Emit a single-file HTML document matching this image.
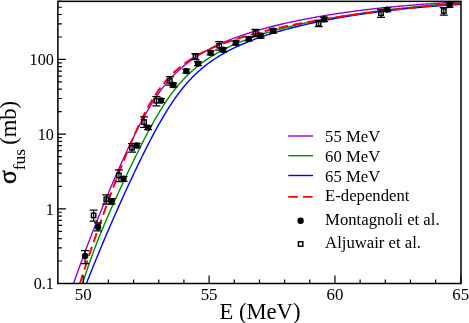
<!DOCTYPE html><html><head><meta charset="utf-8"><title>fusion</title>
<style>html,body{margin:0;padding:0;background:#fff}svg{display:block;will-change:transform;opacity:0.999}text{font-family:"Liberation Serif",serif;fill:#000}</style></head><body>
<svg width="469" height="323" viewBox="0 0 469 323">
<rect width="469" height="323" fill="#fff"/>
<defs><clipPath id="c"><rect x="57.9" y="1.35" width="403.1" height="282.15"/></clipPath></defs>
<g clip-path="url(#c)" fill="none" stroke-linejoin="round">
<path d="M72.21,287.33 L73.22,284.43 L74.23,281.55 L75.24,278.69 L76.25,275.85 L77.26,273.02 L78.27,270.21 L79.28,267.42 L80.29,264.65 L81.29,261.89 L82.30,259.15 L83.31,256.42 L84.32,253.71 L85.33,251.02 L86.34,248.34 L87.35,245.67 L88.36,243.02 L89.37,240.39 L90.38,237.76 L91.39,235.15 L92.40,232.56 L93.41,229.98 L94.42,227.41 L95.42,224.85 L96.43,222.31 L97.44,219.78 L98.45,217.26 L99.46,214.75 L100.47,212.26 L101.48,209.78 L102.49,207.30 L103.50,204.84 L104.51,202.40 L105.52,199.96 L106.53,197.53 L107.54,195.12 L108.55,192.71 L109.56,190.32 L110.56,187.94 L111.57,185.56 L112.58,183.20 L113.59,180.85 L114.60,178.52 L115.61,176.19 L116.62,173.87 L117.63,171.57 L118.64,169.28 L119.65,167.00 L120.66,164.74 L121.67,162.48 L122.68,160.24 L123.69,158.02 L124.70,155.80 L125.70,153.61 L126.71,151.42 L127.72,149.26 L128.73,147.10 L129.74,144.97 L130.75,142.85 L131.76,140.75 L132.77,138.67 L133.78,136.61 L134.79,134.56 L135.80,132.54 L136.81,130.53 L137.82,128.55 L138.83,126.59 L139.84,124.66 L140.84,122.74 L141.85,120.85 L142.86,118.98 L143.87,117.14 L144.88,115.32 L145.89,113.53 L146.90,111.77 L147.91,110.03 L148.92,108.32 L149.93,106.63 L150.94,104.98 L151.95,103.35 L152.96,101.75 L153.97,100.18 L154.98,98.64 L155.98,97.13 L156.99,95.65 L158.00,94.20 L159.01,92.78 L160.02,91.38 L161.03,90.02 L162.04,88.68 L163.05,87.37 L164.06,86.09 L165.07,84.84 L166.08,83.61 L167.09,82.41 L168.10,81.24 L169.11,80.09 L170.11,78.97 L171.12,77.87 L172.13,76.79 L173.14,75.74 L174.15,74.71 L175.16,73.71 L176.17,72.72 L177.18,71.76 L178.19,70.81 L179.20,69.89 L180.21,68.98 L181.22,68.09 L182.23,67.23 L183.24,66.37 L184.25,65.54 L185.25,64.72 L186.26,63.92 L187.27,63.14 L188.28,62.37 L189.29,61.61 L190.30,60.87 L191.31,60.14 L192.32,59.43 L193.33,58.73 L194.34,58.04 L195.35,57.36 L196.36,56.70 L197.37,56.05 L198.38,55.41 L199.39,54.78 L200.39,54.16 L201.40,53.55 L202.41,52.95 L203.42,52.37 L204.43,51.79 L205.44,51.22 L206.45,50.66 L207.46,50.11 L208.47,49.57 L209.48,49.03 L210.49,48.51 L211.50,47.99 L212.51,47.49 L213.52,46.98 L214.53,46.49 L215.53,46.00 L216.54,45.53 L217.55,45.05 L218.56,44.59 L219.57,44.13 L220.58,43.68 L221.59,43.23 L222.60,42.79 L223.61,42.36 L224.62,41.93 L225.63,41.50 L226.64,41.09 L227.65,40.67 L228.66,40.27 L229.66,39.87 L230.67,39.47 L231.68,39.08 L232.69,38.69 L233.70,38.31 L234.71,37.93 L235.72,37.56 L236.73,37.19 L237.74,36.82 L238.75,36.46 L239.76,36.11 L240.77,35.75 L241.78,35.41 L242.79,35.06 L243.80,34.72 L244.80,34.38 L245.81,34.05 L246.82,33.72 L247.83,33.39 L248.84,33.07 L249.85,32.75 L250.86,32.44 L251.87,32.12 L252.88,31.81 L253.89,31.51 L254.90,31.20 L255.91,30.90 L256.92,30.61 L257.93,30.31 L258.94,30.02 L259.94,29.73 L260.95,29.45 L261.96,29.16 L262.97,28.88 L263.98,28.60 L264.99,28.33 L266.00,28.06 L267.01,27.79 L268.02,27.52 L269.03,27.25 L270.04,26.99 L271.05,26.73 L272.06,26.47 L273.07,26.22 L274.08,25.96 L275.08,25.71 L276.09,25.46 L277.10,25.22 L278.11,24.97 L279.12,24.73 L280.13,24.49 L281.14,24.25 L282.15,24.01 L283.16,23.78 L284.17,23.55 L285.18,23.32 L286.19,23.09 L287.20,22.86 L288.21,22.64 L289.22,22.41 L290.22,22.19 L291.23,21.97 L292.24,21.76 L293.25,21.54 L294.26,21.33 L295.27,21.11 L296.28,20.90 L297.29,20.70 L298.30,20.49 L299.31,20.28 L300.32,20.08 L301.33,19.88 L302.34,19.68 L303.35,19.48 L304.35,19.28 L305.36,19.09 L306.37,18.89 L307.38,18.70 L308.39,18.51 L309.40,18.32 L310.41,18.13 L311.42,17.94 L312.43,17.76 L313.44,17.57 L314.45,17.39 L315.46,17.21 L316.47,17.03 L317.48,16.85 L318.49,16.68 L319.49,16.50 L320.50,16.33 L321.51,16.15 L322.52,15.98 L323.53,15.81 L324.54,15.64 L325.55,15.48 L326.56,15.31 L327.57,15.14 L328.58,14.98 L329.59,14.82 L330.60,14.66 L331.61,14.50 L332.62,14.34 L333.63,14.18 L334.63,14.02 L335.64,13.87 L336.65,13.71 L337.66,13.56 L338.67,13.41 L339.68,13.26 L340.69,13.11 L341.70,12.96 L342.71,12.82 L343.72,12.67 L344.73,12.52 L345.74,12.38 L346.75,12.24 L347.76,12.10 L348.77,11.96 L349.77,11.82 L350.78,11.68 L351.79,11.54 L352.80,11.41 L353.81,11.27 L354.82,11.14 L355.83,11.00 L356.84,10.87 L357.85,10.74 L358.86,10.61 L359.87,10.48 L360.88,10.36 L361.89,10.23 L362.90,10.10 L363.90,9.98 L364.91,9.85 L365.92,9.73 L366.93,9.61 L367.94,9.49 L368.95,9.37 L369.96,9.25 L370.97,9.13 L371.98,9.02 L372.99,8.90 L374.00,8.78 L375.01,8.67 L376.02,8.56 L377.03,8.45 L378.04,8.33 L379.04,8.22 L380.05,8.11 L381.06,8.01 L382.07,7.90 L383.08,7.79 L384.09,7.69 L385.10,7.58 L386.11,7.48 L387.12,7.38 L388.13,7.27 L389.14,7.17 L390.15,7.07 L391.16,6.97 L392.17,6.87 L393.18,6.78 L394.18,6.68 L395.19,6.58 L396.20,6.49 L397.21,6.39 L398.22,6.30 L399.23,6.21 L400.24,6.12 L401.25,6.03 L402.26,5.94 L403.27,5.85 L404.28,5.76 L405.29,5.67 L406.30,5.59 L407.31,5.50 L408.32,5.42 L409.32,5.33 L410.33,5.25 L411.34,5.17 L412.35,5.09 L413.36,5.01 L414.37,4.93 L415.38,4.85 L416.39,4.77 L417.40,4.69 L418.41,4.62 L419.42,4.54 L420.43,4.47 L421.44,4.39 L422.45,4.32 L423.46,4.25 L424.46,4.17 L425.47,4.10 L426.48,4.03 L427.49,3.96 L428.50,3.90 L429.51,3.83 L430.52,3.76 L431.53,3.70 L432.54,3.63 L433.55,3.57 L434.56,3.50 L435.57,3.44 L436.58,3.38 L437.59,3.32 L438.59,3.26 L439.60,3.20 L440.61,3.14 L441.62,3.08 L442.63,3.02 L443.64,2.97 L444.65,2.91 L445.66,2.86 L446.67,2.80 L447.68,2.75 L448.69,2.70 L449.70,2.65 L450.71,2.59 L451.72,2.54 L452.73,2.50 L453.73,2.45 L454.74,2.40 L455.75,2.35 L456.76,2.31 L457.77,2.26 L458.78,2.22 L459.79,2.17 L460.80,2.13" stroke="#9400d3" stroke-width="1.4"/>
<path d="M81.29,287.85 L82.30,284.56 L83.31,281.32 L84.32,278.15 L85.33,275.03 L86.34,271.97 L87.35,268.96 L88.36,266.00 L89.37,263.09 L90.38,260.22 L91.39,257.41 L92.40,254.63 L93.41,251.90 L94.42,249.21 L95.42,246.55 L96.43,243.93 L97.44,241.35 L98.45,238.80 L99.46,236.27 L100.47,233.78 L101.48,231.31 L102.49,228.87 L103.50,226.45 L104.51,224.06 L105.52,221.68 L106.53,219.32 L107.54,216.99 L108.55,214.67 L109.56,212.37 L110.56,210.08 L111.57,207.81 L112.58,205.55 L113.59,203.31 L114.60,201.07 L115.61,198.85 L116.62,196.64 L117.63,194.43 L118.64,192.24 L119.65,190.05 L120.66,187.87 L121.67,185.69 L122.68,183.53 L123.69,181.36 L124.70,179.21 L125.70,177.06 L126.71,174.92 L127.72,172.79 L128.73,170.66 L129.74,168.55 L130.75,166.44 L131.76,164.34 L132.77,162.25 L133.78,160.16 L134.79,158.09 L135.80,156.03 L136.81,153.98 L137.82,151.94 L138.83,149.91 L139.84,147.90 L140.84,145.89 L141.85,143.90 L142.86,141.92 L143.87,139.96 L144.88,138.01 L145.89,136.08 L146.90,134.16 L147.91,132.26 L148.92,130.37 L149.93,128.51 L150.94,126.66 L151.95,124.83 L152.96,123.02 L153.97,121.23 L154.98,119.46 L155.98,117.71 L156.99,115.98 L158.00,114.28 L159.01,112.59 L160.02,110.93 L161.03,109.29 L162.04,107.68 L163.05,106.09 L164.06,104.53 L165.07,102.99 L166.08,101.47 L167.09,99.98 L168.10,98.52 L169.11,97.08 L170.11,95.67 L171.12,94.29 L172.13,92.93 L173.14,91.59 L174.15,90.28 L175.16,89.00 L176.17,87.74 L177.18,86.50 L178.19,85.30 L179.20,84.11 L180.21,82.95 L181.22,81.81 L182.23,80.70 L183.24,79.60 L184.25,78.53 L185.25,77.48 L186.26,76.46 L187.27,75.45 L188.28,74.47 L189.29,73.50 L190.30,72.55 L191.31,71.63 L192.32,70.72 L193.33,69.83 L194.34,68.95 L195.35,68.10 L196.36,67.26 L197.37,66.43 L198.38,65.63 L199.39,64.84 L200.39,64.06 L201.40,63.30 L202.41,62.55 L203.42,61.81 L204.43,61.09 L205.44,60.39 L206.45,59.69 L207.46,59.01 L208.47,58.34 L209.48,57.68 L210.49,57.03 L211.50,56.40 L212.51,55.78 L213.52,55.16 L214.53,54.56 L215.53,53.97 L216.54,53.38 L217.55,52.81 L218.56,52.24 L219.57,51.69 L220.58,51.14 L221.59,50.61 L222.60,50.08 L223.61,49.56 L224.62,49.05 L225.63,48.54 L226.64,48.04 L227.65,47.55 L228.66,47.07 L229.66,46.60 L230.67,46.13 L231.68,45.67 L232.69,45.21 L233.70,44.76 L234.71,44.32 L235.72,43.88 L236.73,43.45 L237.74,43.02 L238.75,42.60 L239.76,42.19 L240.77,41.78 L241.78,41.38 L242.79,40.98 L243.80,40.59 L244.80,40.20 L245.81,39.81 L246.82,39.43 L247.83,39.06 L248.84,38.69 L249.85,38.32 L250.86,37.96 L251.87,37.60 L252.88,37.25 L253.89,36.90 L254.90,36.56 L255.91,36.22 L256.92,35.88 L257.93,35.54 L258.94,35.21 L259.94,34.89 L260.95,34.56 L261.96,34.24 L262.97,33.93 L263.98,33.61 L264.99,33.30 L266.00,33.00 L267.01,32.69 L268.02,32.39 L269.03,32.10 L270.04,31.80 L271.05,31.51 L272.06,31.22 L273.07,30.94 L274.08,30.65 L275.08,30.37 L276.09,30.09 L277.10,29.82 L278.11,29.55 L279.12,29.28 L280.13,29.01 L281.14,28.74 L282.15,28.48 L283.16,28.22 L284.17,27.96 L285.18,27.71 L286.19,27.45 L287.20,27.20 L288.21,26.95 L289.22,26.71 L290.22,26.46 L291.23,26.22 L292.24,25.98 L293.25,25.74 L294.26,25.50 L295.27,25.27 L296.28,25.04 L297.29,24.81 L298.30,24.58 L299.31,24.35 L300.32,24.13 L301.33,23.90 L302.34,23.68 L303.35,23.46 L304.35,23.25 L305.36,23.03 L306.37,22.82 L307.38,22.60 L308.39,22.39 L309.40,22.18 L310.41,21.98 L311.42,21.77 L312.43,21.57 L313.44,21.36 L314.45,21.16 L315.46,20.96 L316.47,20.77 L317.48,20.57 L318.49,20.37 L319.49,20.18 L320.50,19.99 L321.51,19.80 L322.52,19.61 L323.53,19.42 L324.54,19.23 L325.55,19.05 L326.56,18.87 L327.57,18.68 L328.58,18.50 L329.59,18.32 L330.60,18.14 L331.61,17.97 L332.62,17.79 L333.63,17.62 L334.63,17.44 L335.64,17.27 L336.65,17.10 L337.66,16.93 L338.67,16.76 L339.68,16.59 L340.69,16.43 L341.70,16.26 L342.71,16.10 L343.72,15.94 L344.73,15.78 L345.74,15.62 L346.75,15.46 L347.76,15.30 L348.77,15.14 L349.77,14.98 L350.78,14.83 L351.79,14.68 L352.80,14.52 L353.81,14.37 L354.82,14.22 L355.83,14.07 L356.84,13.92 L357.85,13.77 L358.86,13.63 L359.87,13.48 L360.88,13.34 L361.89,13.19 L362.90,13.05 L363.90,12.91 L364.91,12.77 L365.92,12.63 L366.93,12.49 L367.94,12.35 L368.95,12.21 L369.96,12.08 L370.97,11.94 L371.98,11.81 L372.99,11.67 L374.00,11.54 L375.01,11.41 L376.02,11.28 L377.03,11.15 L378.04,11.02 L379.04,10.89 L380.05,10.76 L381.06,10.63 L382.07,10.51 L383.08,10.38 L384.09,10.26 L385.10,10.14 L386.11,10.01 L387.12,9.89 L388.13,9.77 L389.14,9.65 L390.15,9.53 L391.16,9.41 L392.17,9.29 L393.18,9.18 L394.18,9.06 L395.19,8.94 L396.20,8.83 L397.21,8.72 L398.22,8.60 L399.23,8.49 L400.24,8.38 L401.25,8.27 L402.26,8.16 L403.27,8.05 L404.28,7.94 L405.29,7.83 L406.30,7.72 L407.31,7.61 L408.32,7.51 L409.32,7.40 L410.33,7.30 L411.34,7.19 L412.35,7.09 L413.36,6.99 L414.37,6.89 L415.38,6.78 L416.39,6.68 L417.40,6.58 L418.41,6.48 L419.42,6.39 L420.43,6.29 L421.44,6.19 L422.45,6.09 L423.46,6.00 L424.46,5.90 L425.47,5.81 L426.48,5.71 L427.49,5.62 L428.50,5.53 L429.51,5.43 L430.52,5.34 L431.53,5.25 L432.54,5.16 L433.55,5.07 L434.56,4.98 L435.57,4.89 L436.58,4.81 L437.59,4.72 L438.59,4.63 L439.60,4.54 L440.61,4.46 L441.62,4.37 L442.63,4.29 L443.64,4.21 L444.65,4.12 L445.66,4.04 L446.67,3.96 L447.68,3.88 L448.69,3.80 L449.70,3.71 L450.71,3.63 L451.72,3.56 L452.73,3.48 L453.73,3.40 L454.74,3.32 L455.75,3.24 L456.76,3.17 L457.77,3.09 L458.78,3.02 L459.79,2.94 L460.80,2.87" stroke="#008b00" stroke-width="1.4"/>
<path d="M84.32,288.85 L85.33,286.25 L86.34,283.67 L87.35,281.10 L88.36,278.54 L89.37,275.99 L90.38,273.46 L91.39,270.93 L92.40,268.42 L93.41,265.92 L94.42,263.43 L95.42,260.95 L96.43,258.48 L97.44,256.03 L98.45,253.58 L99.46,251.14 L100.47,248.72 L101.48,246.30 L102.49,243.89 L103.50,241.50 L104.51,239.11 L105.52,236.73 L106.53,234.36 L107.54,232.00 L108.55,229.65 L109.56,227.31 L110.56,224.98 L111.57,222.66 L112.58,220.34 L113.59,218.04 L114.60,215.74 L115.61,213.45 L116.62,211.17 L117.63,208.90 L118.64,206.64 L119.65,204.38 L120.66,202.14 L121.67,199.90 L122.68,197.67 L123.69,195.45 L124.70,193.23 L125.70,191.03 L126.71,188.83 L127.72,186.64 L128.73,184.46 L129.74,182.29 L130.75,180.13 L131.76,177.98 L132.77,175.83 L133.78,173.70 L134.79,171.57 L135.80,169.45 L136.81,167.35 L137.82,165.25 L138.83,163.16 L139.84,161.09 L140.84,159.02 L141.85,156.97 L142.86,154.92 L143.87,152.89 L144.88,150.87 L145.89,148.86 L146.90,146.87 L147.91,144.89 L148.92,142.92 L149.93,140.97 L150.94,139.03 L151.95,137.11 L152.96,135.20 L153.97,133.31 L154.98,131.44 L155.98,129.58 L156.99,127.74 L158.00,125.92 L159.01,124.12 L160.02,122.33 L161.03,120.57 L162.04,118.83 L163.05,117.10 L164.06,115.40 L165.07,113.72 L166.08,112.06 L167.09,110.42 L168.10,108.81 L169.11,107.22 L170.11,105.65 L171.12,104.11 L172.13,102.59 L173.14,101.10 L174.15,99.63 L175.16,98.18 L176.17,96.76 L177.18,95.37 L178.19,94.00 L179.20,92.65 L180.21,91.33 L181.22,90.04 L182.23,88.77 L183.24,87.52 L184.25,86.30 L185.25,85.10 L186.26,83.93 L187.27,82.78 L188.28,81.65 L189.29,80.55 L190.30,79.46 L191.31,78.40 L192.32,77.36 L193.33,76.35 L194.34,75.35 L195.35,74.37 L196.36,73.41 L197.37,72.47 L198.38,71.55 L199.39,70.65 L200.39,69.77 L201.40,68.90 L202.41,68.05 L203.42,67.22 L204.43,66.40 L205.44,65.60 L206.45,64.82 L207.46,64.05 L208.47,63.29 L209.48,62.55 L210.49,61.82 L211.50,61.11 L212.51,60.41 L213.52,59.72 L214.53,59.04 L215.53,58.38 L216.54,57.72 L217.55,57.08 L218.56,56.45 L219.57,55.83 L220.58,55.22 L221.59,54.63 L222.60,54.04 L223.61,53.46 L224.62,52.89 L225.63,52.33 L226.64,51.78 L227.65,51.24 L228.66,50.70 L229.66,50.18 L230.67,49.66 L231.68,49.15 L232.69,48.65 L233.70,48.16 L234.71,47.67 L235.72,47.19 L236.73,46.71 L237.74,46.25 L238.75,45.79 L239.76,45.33 L240.77,44.89 L241.78,44.44 L242.79,44.01 L243.80,43.58 L244.80,43.15 L245.81,42.74 L246.82,42.32 L247.83,41.91 L248.84,41.51 L249.85,41.11 L250.86,40.72 L251.87,40.33 L252.88,39.94 L253.89,39.57 L254.90,39.19 L255.91,38.82 L256.92,38.45 L257.93,38.09 L258.94,37.73 L259.94,37.38 L260.95,37.03 L261.96,36.68 L262.97,36.34 L263.98,36.00 L264.99,35.66 L266.00,35.33 L267.01,35.00 L268.02,34.68 L269.03,34.36 L270.04,34.04 L271.05,33.72 L272.06,33.41 L273.07,33.10 L274.08,32.80 L275.08,32.50 L276.09,32.20 L277.10,31.90 L278.11,31.60 L279.12,31.31 L280.13,31.02 L281.14,30.74 L282.15,30.46 L283.16,30.17 L284.17,29.90 L285.18,29.62 L286.19,29.35 L287.20,29.08 L288.21,28.81 L289.22,28.54 L290.22,28.28 L291.23,28.02 L292.24,27.76 L293.25,27.50 L294.26,27.25 L295.27,27.00 L296.28,26.75 L297.29,26.50 L298.30,26.25 L299.31,26.01 L300.32,25.77 L301.33,25.53 L302.34,25.29 L303.35,25.06 L304.35,24.82 L305.36,24.59 L306.37,24.36 L307.38,24.13 L308.39,23.91 L309.40,23.68 L310.41,23.46 L311.42,23.24 L312.43,23.02 L313.44,22.80 L314.45,22.59 L315.46,22.37 L316.47,22.16 L317.48,21.95 L318.49,21.74 L319.49,21.54 L320.50,21.33 L321.51,21.13 L322.52,20.92 L323.53,20.72 L324.54,20.52 L325.55,20.33 L326.56,20.13 L327.57,19.93 L328.58,19.74 L329.59,19.55 L330.60,19.36 L331.61,19.17 L332.62,18.98 L333.63,18.80 L334.63,18.61 L335.64,18.43 L336.65,18.25 L337.66,18.07 L338.67,17.89 L339.68,17.71 L340.69,17.53 L341.70,17.36 L342.71,17.19 L343.72,17.01 L344.73,16.84 L345.74,16.67 L346.75,16.50 L347.76,16.34 L348.77,16.17 L349.77,16.01 L350.78,15.84 L351.79,15.68 L352.80,15.52 L353.81,15.36 L354.82,15.20 L355.83,15.05 L356.84,14.89 L357.85,14.73 L358.86,14.58 L359.87,14.43 L360.88,14.28 L361.89,14.13 L362.90,13.98 L363.90,13.83 L364.91,13.68 L365.92,13.54 L366.93,13.39 L367.94,13.25 L368.95,13.11 L369.96,12.97 L370.97,12.83 L371.98,12.69 L372.99,12.55 L374.00,12.42 L375.01,12.28 L376.02,12.15 L377.03,12.01 L378.04,11.88 L379.04,11.75 L380.05,11.62 L381.06,11.49 L382.07,11.36 L383.08,11.24 L384.09,11.11 L385.10,10.99 L386.11,10.86 L387.12,10.74 L388.13,10.62 L389.14,10.50 L390.15,10.38 L391.16,10.26 L392.17,10.14 L393.18,10.03 L394.18,9.91 L395.19,9.80 L396.20,9.69 L397.21,9.57 L398.22,9.46 L399.23,9.35 L400.24,9.24 L401.25,9.14 L402.26,9.03 L403.27,8.92 L404.28,8.82 L405.29,8.71 L406.30,8.61 L407.31,8.51 L408.32,8.41 L409.32,8.31 L410.33,8.21 L411.34,8.11 L412.35,8.01 L413.36,7.92 L414.37,7.82 L415.38,7.73 L416.39,7.63 L417.40,7.54 L418.41,7.45 L419.42,7.36 L420.43,7.27 L421.44,7.18 L422.45,7.09 L423.46,7.01 L424.46,6.92 L425.47,6.84 L426.48,6.75 L427.49,6.67 L428.50,6.59 L429.51,6.51 L430.52,6.43 L431.53,6.35 L432.54,6.27 L433.55,6.20 L434.56,6.12 L435.57,6.04 L436.58,5.97 L437.59,5.90 L438.59,5.83 L439.60,5.75 L440.61,5.68 L441.62,5.62 L442.63,5.55 L443.64,5.48 L444.65,5.41 L445.66,5.35 L446.67,5.28 L447.68,5.22 L448.69,5.16 L449.70,5.10 L450.71,5.04 L451.72,4.98 L452.73,4.92 L453.73,4.86 L454.74,4.80 L455.75,4.75 L456.76,4.69 L457.77,4.64 L458.78,4.58 L459.79,4.53 L460.80,4.48" stroke="#0000ff" stroke-width="1.4"/>
<path d="M78.27,288.74 L79.28,285.53 L80.29,282.35 L81.29,279.19 L82.30,276.05 L83.31,272.93 L84.32,269.82 L85.33,266.73 L86.34,263.67 L87.35,260.62 L88.36,257.58 L89.37,254.57 L90.38,251.57 L91.39,248.58 L92.40,245.62 L93.41,242.66 L94.42,239.73 L95.42,236.81 L96.43,233.90 L97.44,231.01 L98.45,228.13 L99.46,225.27 L100.47,222.41 L101.48,219.58 L102.49,216.75 L103.50,213.94 L104.51,211.15 L105.52,208.36 L106.53,205.59 L107.54,202.83 L108.55,200.09 L109.56,197.36 L110.56,194.64 L111.57,191.93 L112.58,189.24 L113.59,186.56 L114.60,183.89 L115.61,181.24 L116.62,178.60 L117.63,175.98 L118.64,173.37 L119.65,170.77 L120.66,168.20 L121.67,165.63 L122.68,163.09 L123.69,160.56 L124.70,158.05 L125.70,155.56 L126.71,153.09 L127.72,150.64 L128.73,148.21 L129.74,145.81 L130.75,143.43 L131.76,141.07 L132.77,138.73 L133.78,136.43 L134.79,134.15 L135.80,131.90 L136.81,129.68 L137.82,127.49 L138.83,125.33 L139.84,123.20 L140.84,121.11 L141.85,119.05 L142.86,117.02 L143.87,115.02 L144.88,113.07 L145.89,111.14 L146.90,109.25 L147.91,107.40 L148.92,105.59 L149.93,103.81 L150.94,102.08 L151.95,100.38 L152.96,98.72 L153.97,97.10 L154.98,95.52 L155.98,93.98 L156.99,92.48 L158.00,91.01 L159.01,89.59 L160.02,88.20 L161.03,86.85 L162.04,85.54 L163.05,84.26 L164.06,83.01 L165.07,81.80 L166.08,80.62 L167.09,79.47 L168.10,78.35 L169.11,77.26 L170.11,76.20 L171.12,75.17 L172.13,74.16 L173.14,73.18 L174.15,72.22 L175.16,71.29 L176.17,70.38 L177.18,69.49 L178.19,68.62 L179.20,67.78 L180.21,66.95 L181.22,66.14 L182.23,65.36 L183.24,64.59 L184.25,63.83 L185.25,63.10 L186.26,62.38 L187.27,61.67 L188.28,60.98 L189.29,60.31 L190.30,59.65 L191.31,59.00 L192.32,58.37 L193.33,57.75 L194.34,57.14 L195.35,56.54 L196.36,55.95 L197.37,55.38 L198.38,54.82 L199.39,54.26 L200.39,53.72 L201.40,53.19 L202.41,52.66 L203.42,52.15 L204.43,51.64 L205.44,51.14 L206.45,50.65 L207.46,50.17 L208.47,49.70 L209.48,49.24 L210.49,48.78 L211.50,48.33 L212.51,47.88 L213.52,47.45 L214.53,47.02 L215.53,46.59 L216.54,46.17 L217.55,45.76 L218.56,45.36 L219.57,44.96 L220.58,44.56 L221.59,44.17 L222.60,43.79 L223.61,43.41 L224.62,43.04 L225.63,42.67 L226.64,42.30 L227.65,41.94 L228.66,41.59 L229.66,41.24 L230.67,40.89 L231.68,40.55 L232.69,40.21 L233.70,39.88 L234.71,39.55 L235.72,39.22 L236.73,38.90 L237.74,38.58 L238.75,38.26 L239.76,37.95 L240.77,37.64 L241.78,37.33 L242.79,37.03 L243.80,36.73 L244.80,36.43 L245.81,36.14 L246.82,35.84 L247.83,35.56 L248.84,35.27 L249.85,34.99 L250.86,34.71 L251.87,34.43 L252.88,34.15 L253.89,33.88 L254.90,33.61 L255.91,33.35 L256.92,33.08 L257.93,32.82 L258.94,32.56 L259.94,32.30 L260.95,32.04 L261.96,31.79 L262.97,31.54 L263.98,31.29 L264.99,31.04 L266.00,30.80 L267.01,30.55 L268.02,30.31 L269.03,30.07 L270.04,29.83 L271.05,29.60 L272.06,29.36 L273.07,29.13 L274.08,28.90 L275.08,28.67 L276.09,28.45 L277.10,28.22 L278.11,28.00 L279.12,27.78 L280.13,27.56 L281.14,27.34 L282.15,27.12 L283.16,26.91 L284.17,26.69 L285.18,26.48 L286.19,26.27 L287.20,26.06 L288.21,25.85 L289.22,25.65 L290.22,25.44 L291.23,25.24 L292.24,25.04 L293.25,24.84 L294.26,24.64 L295.27,24.44 L296.28,24.24 L297.29,24.05 L298.30,23.85 L299.31,23.66 L300.32,23.47 L301.33,23.28 L302.34,23.09 L303.35,22.90 L304.35,22.72 L305.36,22.53 L306.37,22.35 L307.38,22.16 L308.39,21.98 L309.40,21.80 L310.41,21.62 L311.42,21.44 L312.43,21.26 L313.44,21.09 L314.45,20.91 L315.46,20.74 L316.47,20.56 L317.48,20.39 L318.49,20.22 L319.49,20.05 L320.50,19.88 L321.51,19.71 L322.52,19.54 L323.53,19.38 L324.54,19.21 L325.55,19.05 L326.56,18.88 L327.57,18.72 L328.58,18.56 L329.59,18.40 L330.60,18.24 L331.61,18.08 L332.62,17.92 L333.63,17.77 L334.63,17.61 L335.64,17.45 L336.65,17.30 L337.66,17.15 L338.67,16.99 L339.68,16.84 L340.69,16.69 L341.70,16.54 L342.71,16.39 L343.72,16.24 L344.73,16.09 L345.74,15.95 L346.75,15.80 L347.76,15.65 L348.77,15.51 L349.77,15.36 L350.78,15.22 L351.79,15.08 L352.80,14.94 L353.81,14.80 L354.82,14.66 L355.83,14.52 L356.84,14.38 L357.85,14.24 L358.86,14.10 L359.87,13.97 L360.88,13.83 L361.89,13.70 L362.90,13.56 L363.90,13.43 L364.91,13.29 L365.92,13.16 L366.93,13.03 L367.94,12.90 L368.95,12.77 L369.96,12.64 L370.97,12.51 L371.98,12.38 L372.99,12.26 L374.00,12.13 L375.01,12.00 L376.02,11.88 L377.03,11.75 L378.04,11.63 L379.04,11.51 L380.05,11.38 L381.06,11.26 L382.07,11.14 L383.08,11.02 L384.09,10.90 L385.10,10.78 L386.11,10.66 L387.12,10.54 L388.13,10.42 L389.14,10.31 L390.15,10.19 L391.16,10.07 L392.17,9.96 L393.18,9.84 L394.18,9.73 L395.19,9.62 L396.20,9.50 L397.21,9.39 L398.22,9.28 L399.23,9.17 L400.24,9.06 L401.25,8.95 L402.26,8.84 L403.27,8.73 L404.28,8.62 L405.29,8.52 L406.30,8.41 L407.31,8.30 L408.32,8.20 L409.32,8.09 L410.33,7.99 L411.34,7.88 L412.35,7.78 L413.36,7.68 L414.37,7.58 L415.38,7.47 L416.39,7.37 L417.40,7.27 L418.41,7.17 L419.42,7.07 L420.43,6.97 L421.44,6.88 L422.45,6.78 L423.46,6.68 L424.46,6.59 L425.47,6.49 L426.48,6.39 L427.49,6.30 L428.50,6.21 L429.51,6.11 L430.52,6.02 L431.53,5.93 L432.54,5.84 L433.55,5.74 L434.56,5.65 L435.57,5.56 L436.58,5.47 L437.59,5.38 L438.59,5.30 L439.60,5.21 L440.61,5.12 L441.62,5.03 L442.63,4.95 L443.64,4.86 L444.65,4.78 L445.66,4.69 L446.67,4.61 L447.68,4.52 L448.69,4.44 L449.70,4.36 L450.71,4.28 L451.72,4.19 L452.73,4.11 L453.73,4.03 L454.74,3.95 L455.75,3.87 L456.76,3.80 L457.77,3.72 L458.78,3.64 L459.79,3.56 L460.80,3.49" stroke="#ff0000" stroke-width="1.95" stroke-dasharray="9.45 5.05" stroke-dashoffset="8.94"/>
</g>
<g stroke="#000" stroke-width="1.25" fill="none">
<path d="M93.6,210.1V221.1M89.6,210.1h8M89.6,221.1h8"/>
<rect x="91.40" y="213.20" width="4.4" height="4.4" fill="none" stroke-width="1.45"/>
<path d="M106.3,194.8V204.2M102.3,194.8h8M102.3,204.2h8"/>
<rect x="104.10" y="197.10" width="4.4" height="4.4" fill="none" stroke-width="1.45"/>
<path d="M118.9,169.8V181.6M114.9,169.8h8M114.9,181.6h8"/>
<rect x="116.70" y="173.30" width="4.4" height="4.4" fill="none" stroke-width="1.45"/>
<path d="M132.0,143.7V152.0M128.0,143.7h8M128.0,152.0h8"/>
<rect x="129.80" y="145.60" width="4.4" height="4.4" fill="none" stroke-width="1.45"/>
<path d="M144.1,116.9V127.3M140.1,116.9h8M140.1,127.3h8"/>
<rect x="141.90" y="119.90" width="4.4" height="4.4" fill="none" stroke-width="1.45"/>
<path d="M156.4,96.7V105.8M152.4,96.7h8M152.4,105.8h8"/>
<rect x="154.20" y="98.50" width="4.4" height="4.4" fill="none" stroke-width="1.45"/>
<path d="M169.8,76.6V85M165.8,76.6h8M165.8,85h8"/>
<rect x="167.60" y="78.60" width="4.4" height="4.4" fill="none" stroke-width="1.45"/>
<path d="M195.4,53.7V59.7M191.4,53.7h8M191.4,59.7h8"/>
<rect x="193.20" y="54.50" width="4.4" height="4.4" fill="none" stroke-width="1.45"/>
<path d="M219.2,41.5V50.2M215.2,41.5h8M215.2,50.2h8"/>
<rect x="217.00" y="43.50" width="4.4" height="4.4" fill="none" stroke-width="1.45"/>
<path d="M255.5,29.4V36.7M251.5,29.4h8M251.5,36.7h8"/>
<rect x="253.30" y="30.70" width="4.4" height="4.4" fill="none" stroke-width="1.45"/>
<path d="M318.7,20.4V26.7M314.7,20.4h8M314.7,26.7h8"/>
<rect x="316.50" y="21.40" width="4.4" height="4.4" fill="none" stroke-width="1.45"/>
<path d="M381,9.3V17.4M377,9.3h8M377,17.4h8"/>
<rect x="378.80" y="11.10" width="4.4" height="4.4" fill="none" stroke-width="1.45"/>
<path d="M443.8,7.6V15.1M439.8,7.6h8M439.8,15.1h8"/>
<rect x="441.60" y="8.80" width="4.4" height="4.4" fill="none" stroke-width="1.45"/>
<path d="M85.1,250.5V263.6M81.1,250.5h8M81.1,263.6h8"/>
<circle cx="85.1" cy="256" r="3.2" fill="#000" stroke="none"/>
<path d="M98.0,222.9V230.9M94.0,222.9h8M94.0,230.9h8"/>
<circle cx="98.0" cy="226.9" r="3.2" fill="#000" stroke="none"/>
<path d="M111.6,198.5V204M107.6,198.5h8M107.6,204h8"/>
<circle cx="111.6" cy="201.2" r="3.2" fill="#000" stroke="none"/>
<path d="M123.5,176.5V181.3M119.5,176.5h8M119.5,181.3h8"/>
<circle cx="123.5" cy="178.8" r="3.2" fill="#000" stroke="none"/>
<path d="M136.7,143.4V147.6M132.7,143.4h8M132.7,147.6h8"/>
<circle cx="136.7" cy="145.5" r="3.2" fill="#000" stroke="none"/>
<path d="M148.1,125.6V129.6M144.1,125.6h8M144.1,129.6h8"/>
<circle cx="148.1" cy="127.6" r="3.2" fill="#000" stroke="none"/>
<path d="M161,98.5V102.5M157,98.5h8M157,102.5h8"/>
<circle cx="161" cy="100.5" r="3.2" fill="#000" stroke="none"/>
<path d="M173.3,83V87M169.3,83h8M169.3,87h8"/>
<circle cx="173.3" cy="85" r="3.2" fill="#000" stroke="none"/>
<path d="M186.3,69.1V73.1M182.3,69.1h8M182.3,73.1h8"/>
<circle cx="186.3" cy="71.1" r="3.2" fill="#000" stroke="none"/>
<path d="M198,61.6V65.6M194,61.6h8M194,65.6h8"/>
<circle cx="198" cy="63.6" r="3.2" fill="#000" stroke="none"/>
<path d="M210.6,50.9V54.9M206.6,50.9h8M206.6,54.9h8"/>
<circle cx="210.6" cy="52.9" r="3.2" fill="#000" stroke="none"/>
<path d="M223.2,47.8V51.8M219.2,47.8h8M219.2,51.8h8"/>
<circle cx="223.2" cy="49.8" r="3.2" fill="#000" stroke="none"/>
<path d="M235.8,40.8V44.8M231.8,40.8h8M231.8,44.8h8"/>
<circle cx="235.8" cy="42.8" r="3.2" fill="#000" stroke="none"/>
<path d="M248.8,36.9V40.9M244.8,36.9h8M244.8,40.9h8"/>
<circle cx="248.8" cy="38.9" r="3.2" fill="#000" stroke="none"/>
<path d="M260.7,33.4V38.0M256.7,33.4h8M256.7,38.0h8"/>
<circle cx="260.7" cy="35.7" r="3.2" fill="#000" stroke="none"/>
<path d="M273.2,28.5V33.1M269.2,28.5h8M269.2,33.1h8"/>
<circle cx="273.2" cy="30.8" r="3.2" fill="#000" stroke="none"/>
<path d="M324,17.0V21.6M320,17.0h8M320,21.6h8"/>
<circle cx="324" cy="19.3" r="3.2" fill="#000" stroke="none"/>
<path d="M387.2,7.6V11.6M383.2,7.6h8M383.2,11.6h8"/>
<circle cx="387.2" cy="9.6" r="3.2" fill="#000" stroke="none"/>
<path d="M449.6,2.7V7.3M445.6,2.7h8M445.6,7.3h8"/>
<circle cx="449.6" cy="5.0" r="3.2" fill="#000" stroke="none"/>
</g>
<rect x="57.9" y="1.35" width="403.1" height="282.15" fill="none" stroke="#000" stroke-width="1.5"/>
<path d="M83.25,283.5v-8M108.42,283.5v-4M133.59,283.5v-4M158.76,283.5v-4M183.93,283.5v-4M209.10,283.5v-8M234.27,283.5v-4M259.44,283.5v-4M284.61,283.5v-4M309.78,283.5v-4M334.95,283.5v-8M360.12,283.5v-4M385.29,283.5v-4M410.46,283.5v-4M435.63,283.5v-4M460.80,283.5v-8M57.9,283.50h8M57.9,261.02h4M57.9,247.87h4M57.9,238.54h4M57.9,231.30h4M57.9,225.39h4M57.9,220.39h4M57.9,216.06h4M57.9,212.24h4M57.9,208.82h8M57.9,186.34h4M57.9,173.19h4M57.9,163.86h4M57.9,156.62h4M57.9,150.71h4M57.9,145.71h4M57.9,141.38h4M57.9,137.56h4M57.9,134.14h8M57.9,111.66h4M57.9,98.51h4M57.9,89.18h4M57.9,81.94h4M57.9,76.03h4M57.9,71.03h4M57.9,66.70h4M57.9,62.88h4M57.9,59.46h8M57.9,36.98h4M57.9,23.83h4M57.9,14.50h4M57.9,7.26h4M57.9,1.35h4" stroke="#000" stroke-width="1.2" fill="none"/>
<text x="83.25" y="300.2" font-size="16.9" text-anchor="middle">50</text>
<text x="209.10" y="300.2" font-size="16.9" text-anchor="middle">55</text>
<text x="334.95" y="300.2" font-size="16.9" text-anchor="middle">60</text>
<text x="460.80" y="300.2" font-size="16.9" text-anchor="middle">65</text>
<text x="53.9" y="289.20" font-size="16.2" text-anchor="end">0.1</text>
<text x="53.9" y="214.52" font-size="16.2" text-anchor="end">1</text>
<text x="53.9" y="139.84" font-size="16.2" text-anchor="end">10</text>
<text x="53.9" y="65.16" font-size="16.2" text-anchor="end">100</text>
<text x="260" y="318.8" font-size="22.6" text-anchor="middle">E (MeV)</text>
<g transform="translate(16,183) rotate(-90)"><text x="-1.0" y="0" font-size="25.5" stroke="#000" stroke-width="0.45">σ</text><text x="12.8" y="9" font-size="17.5">fus</text><text x="38.2" y="0" font-size="22.6">(mb)</text></g>
<path d="M288.2,136.0H313.0" stroke="#9400d3" stroke-width="1.4"/>
<text x="325.1" y="142.0" font-size="16.7">55 MeV</text>
<path d="M288.2,155.7H313.0" stroke="#008b00" stroke-width="1.4"/>
<text x="325.1" y="161.7" font-size="16.7">60 MeV</text>
<path d="M288.2,175.5H313.0" stroke="#0000ff" stroke-width="1.4"/>
<text x="325.1" y="181.5" font-size="16.7">65 MeV</text>
<path d="M288.2,196.8H313.0" stroke="#ff0000" stroke-width="1.8" stroke-dasharray="9.6 5.2"/>
<text x="325.1" y="201.3" font-size="16.7">E-dependent</text>
<circle cx="300.6" cy="220.79999999999998" r="3.2" fill="#000"/>
<text x="325.1" y="225.1" font-size="16.7">Montagnoli et al.</text>
<rect x="298.40" y="241.80" width="4.4" height="4.4" fill="#fff" stroke="#000" stroke-width="1.45"/>
<text x="325.1" y="248.3" font-size="16.7">Aljuwair et al.</text>
</svg></body></html>
